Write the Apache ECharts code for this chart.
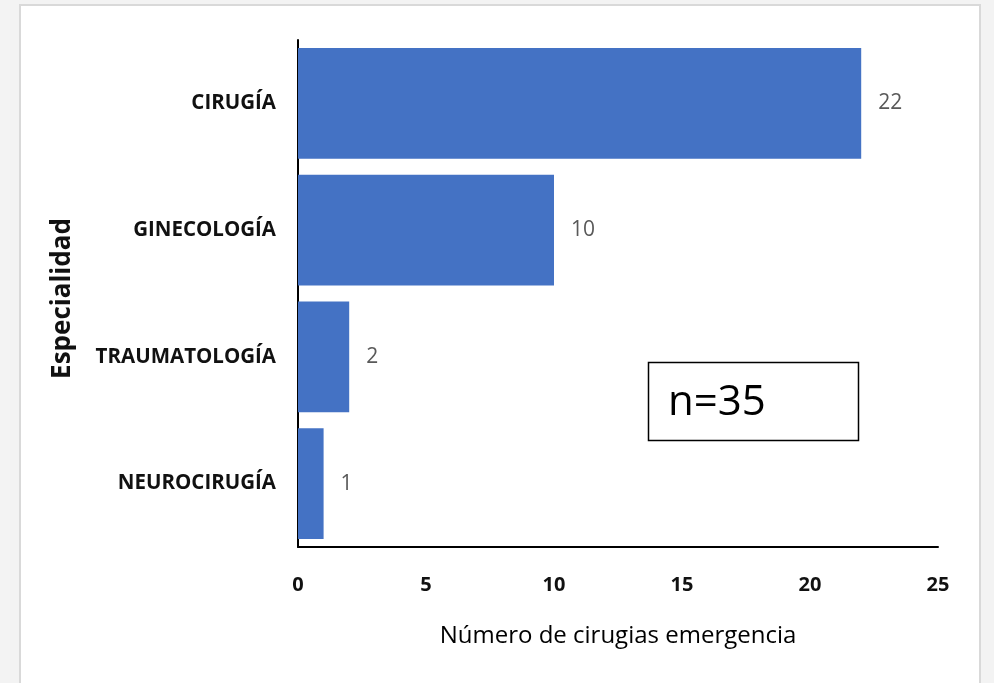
<!DOCTYPE html>
<html><head><meta charset="utf-8">
<script src="https://cdn.jsdelivr.net/npm/echarts@6/dist/echarts.min.js"></script>
<style>html,body{margin:0;padding:0;background:#f3f3f3;}#c{width:994px;height:683px;}</style>
</head><body><div id="c"></div>
<script>
const categories = ['CIRUGÍA', 'GINECOLOGÍA', 'TRAUMATOLOGÍA', 'NEUROCIRUGÍA'];
const values = [22, 10, 2, 1];
const xTicks = [0, 5, 10, 15, 20, 25];
const noteText = 'n=35';
const FONT = '"Open Sans", "Noto Sans", sans-serif';
const chart = echarts.init(document.getElementById('c'));
chart.setOption({
  backgroundColor: '#f3f3f3',
  animation: false,
  graphic: [
    { type: 'rect', z: -10, shape: { x: 20, y: 5, width: 960, height: 690 },
      style: { fill: '#ffffff', stroke: '#d9d9d9', lineWidth: 2 } },
    { type: 'rect', z: 10, shape: { x: 648.5, y: 362.5, width: 210, height: 78 },
      style: { fill: '#ffffff', stroke: '#000000', lineWidth: 1.5 } },
    { type: 'text', z: 11, x: 668, y: 403,
      style: { text: noteText, font: '42px ' + FONT, fill: '#000', verticalAlign: 'middle' } }
  ],
  grid: { left: 298, right: 56, top: 40, bottom: 136 },
  xAxis: {
    type: 'value', min: xTicks[0], max: xTicks[xTicks.length - 1], interval: 5,
    name: 'Número de cirugias emergencia', nameLocation: 'middle', nameGap: 77,
    nameTextStyle: { fontFamily: FONT, fontSize: 24, color: '#000' },
    axisLine: { show: true, lineStyle: { color: '#000', width: 2 } },
    axisTick: { show: false }, splitLine: { show: false },
    axisLabel: { margin: 28, fontFamily: FONT, fontSize: 20, fontWeight: 'bold', color: '#111' }
  },
  yAxis: {
    type: 'category', data: categories, inverse: true,
    name: 'Especialidad', nameLocation: 'middle', nameGap: 222, nameRotate: 90,
    nameTextStyle: { fontFamily: FONT, fontSize: 26, fontWeight: 'bold', color: '#111', padding: [0, 10, 0, 0] },
    axisLine: { show: true, lineStyle: { color: '#000', width: 2 } },
    axisTick: { show: false },
    axisLabel: { margin: 22, fontFamily: FONT, fontSize: 20.5, fontWeight: 'bold', color: '#111' }
  },
  series: [{
    type: 'bar', data: values, barCategoryGap: '12.5%',
    itemStyle: { color: '#4472c4' },
    label: { show: true, position: 'right', distance: 17, fontFamily: FONT, fontSize: 21, color: '#595959' }
  }]
});
</script></body></html>
